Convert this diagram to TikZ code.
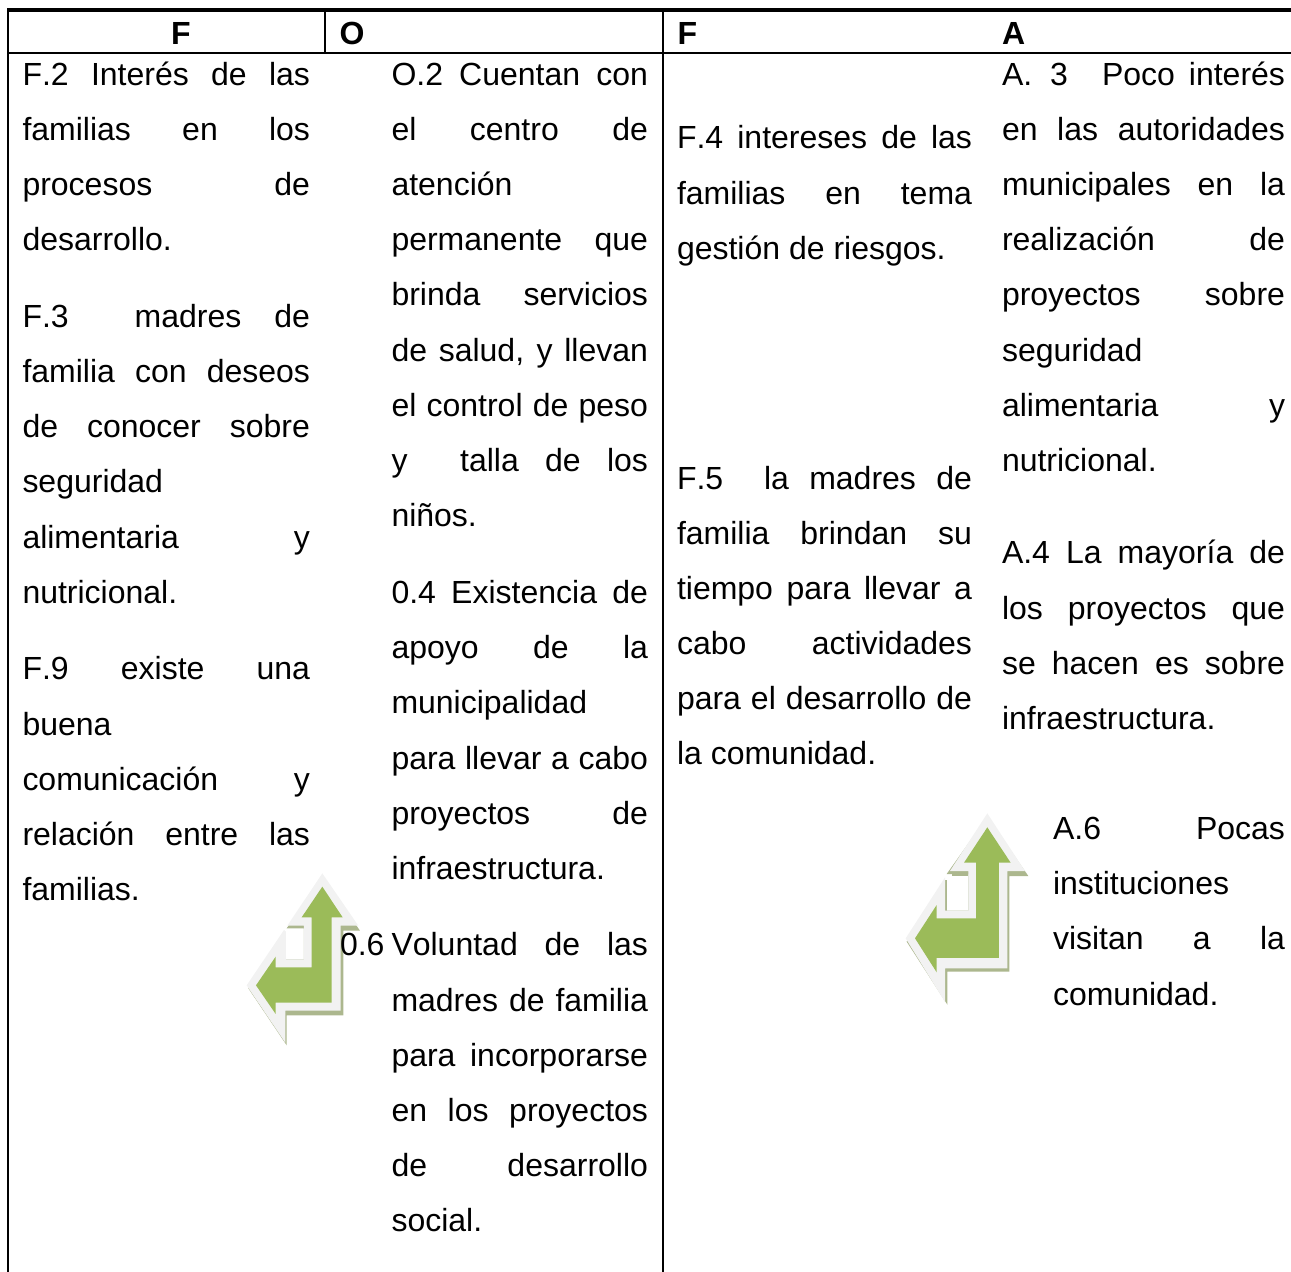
\documentclass[tikz,border=0pt]{standalone}
\usepackage{fontspec}
\setmainfont[Kerning=Off]{Liberation Sans}
\hbadness=10000
\hfuzz=20pt
\definecolor{arrowgreen}{HTML}{9BBB59}
\definecolor{arrowrim}{HTML}{F2F2F2}
\definecolor{arrowshade}{HTML}{ACB78E}
\newcount\tn
\newcommand\setcol[2]{\def\colx{#1}\def\colw{#2}}
% justified line: y-centre, text
\newcommand\J[2]{\global\advance\tn by 1
  \node[txt] (t\the\tn) at (\colx,#1+11) {\makebox[\colw pt][s]{#2}};}
% flush-left line
\newcommand\Lf[2]{\global\advance\tn by 1
  \node[txt] (t\the\tn) at (\colx,#1+11) {#2};}
\tikzset{
  txt/.style={anchor=base west,inner sep=0pt,outer sep=0pt,text=black,font=\fontsize{32}{32}\selectfont},
  head/.style={anchor=base,inner sep=0pt,outer sep=0pt,text=black,font=\fontsize{32}{32}\selectfont\bfseries},
  rule/.style={draw=black,line cap=butt},
  arrowbase/.style={line join=miter}
}
\begin{document}
\begin{tikzpicture}[x=1pt,y=-1pt]
\useasboundingbox (0,0) rectangle (1291,1272);
% table rules
\coordinate (tl) at (7,9.5); \coordinate (tr) at (1291,9.5);
\coordinate (hl) at (7,53); \coordinate (hr) at (1291,53);
\draw[rule,line width=4pt] (tl) -- (tr);
\draw[rule,line width=2pt] (hl) -- (hr);
\draw[rule,line width=2pt] (8,8) -- (8,1272);
\draw[rule,line width=2pt] (663,8) -- (663,1272);
\draw[rule,line width=1.2pt] (325,11) -- (325,53);
% headers
\node[head] (h1) at (181,44) {F};
\node[head,anchor=base west] (h2) at (339.5,44) {O};
\node[head,anchor=base west] (h3) at (677.5,44) {F};
\node[head,anchor=base west] (h4) at (1002,44) {A};
% arrow 1
\begin{scope}[shift={(230,860)},x=0.3333pt,y=-0.3333pt,arrowbase]
\fill[arrowshade] (277,50) -- (390,212) -- (340,212) -- (340,466) -- (170,466) -- (170,556) -- (55,385) -- (165,215) -- (165,298) -- (222,298) -- (222,205) -- (170,205) -- cycle;
\fill[arrowshade] (185,197) rectangle (222,204);
\fill[arrowrim] (277,40) -- (385,197) -- (332,197) -- (332,452) -- (166,452) -- (166,548) -- (50,376) -- (162,210) -- (168,215) -- (168,298) -- (222,298) -- (222,197) -- (172,197) -- cycle;
\fill[arrowgreen] (277,80) -- (338,172) -- (305,172) -- (305,428) -- (137,428) -- (137,462) -- (78,376) -- (137,290) -- (137,322) -- (245,322) -- (245,172) -- (215,172) -- cycle;
\end{scope}
% arrow 2
\begin{scope}[shift={(890,800)},x=0.3333pt,y=-0.3333pt,arrowbase]
\fill[arrowshade] (292,50) -- (415,228) -- (358,228) -- (358,515) -- (172,515) -- (172,614) -- (50,425) -- (165,240) -- (165,332) -- (235,332) -- (235,222) -- (170,222) -- cycle;
\fill[arrowshade] (185,213) rectangle (235,228);
\fill[arrowshade] (165,240) rectangle (172,332);
\fill[arrowrim] (292,40) -- (405,213) -- (352,213) -- (352,505) -- (165,505) -- (165,606) -- (47,415) -- (165,232) -- (165,332) -- (235,332) -- (235,213) -- (180,213) -- cycle;
\fill[arrowgreen] (292,82) -- (362,188) -- (327,188) -- (327,474) -- (140,474) -- (140,517) -- (75,415) -- (140,315) -- (140,355) -- (258,355) -- (258,188) -- (222,188) -- cycle;
\end{scope}
% column 1
\setcol{22.5}{287.5}
\J{74}{F.2 Interés de las}
\J{129}{familias en los}
\J{184}{procesos de}
\Lf{239}{desarrollo.}
\J{316}{F.3\ \ madres de}
\J{371}{familia con deseos}
\J{426}{de conocer sobre}
\Lf{481}{seguridad}
\J{537}{alimentaria y}
\Lf{592}{nutricional.}
\J{668}{F.9 existe una}
\Lf{724}{buena}
\J{779}{comunicación y}
\J{834}{relación entre las}
\Lf{889}{familias.}
% column 2
\setcol{391.5}{256.5}
\J{74}{O.2 Cuentan con}
\J{129}{el centro de}
\Lf{184}{atención}
\J{239}{permanente que}
\J{294}{brinda servicios}
\J{350}{de salud, y llevan}
\J{405}{el control de peso}
\J{460}{y\ \ talla de los}
\Lf{515}{niños.}
\J{592}{0.4 Existencia de}
\J{647}{apoyo de la}
\Lf{702}{municipalidad}
\J{758}{para llevar a cabo}
\J{813}{proyectos de}
\Lf{868}{infraestructura.}
\J{944}{Voluntad de las}
\J{1000}{madres de familia}
\J{1055}{para incorporarse}
\J{1110}{en los proyectos}
\J{1165}{de desarrollo}
\Lf{1220}{social.}
\node[txt] (o6) at (340,955) {0.6};
% column 3
\setcol{677}{295}
\J{137}{F.4 intereses de las}
\J{193}{familias en tema}
\Lf{248}{gestión de riesgos.}
\J{478}{F.5\ \ la madres de}
\J{533}{familia brindan su}
\J{588}{tiempo para llevar a}
\J{643}{cabo actividades}
\J{698}{para el desarrollo de}
\Lf{753}{la comunidad.}
% column 4
\setcol{1002}{283}
\J{74}{A.\hspace{18pt}3\hspace{34pt}Poco interés}
\J{129}{en las autoridades}
\J{184}{municipales en la}
\J{239}{realización de}
\J{294}{proyectos sobre}
\Lf{350}{seguridad}
\J{405}{alimentaria y}
\Lf{460}{nutricional.}
\J{552}{A.4 La mayoría de}
\J{608}{los proyectos que}
\J{663}{se hacen es sobre}
\Lf{718}{infraestructura.}
% A.6 block
\setcol{1053}{232}
\J{828}{A.6 Pocas}
\Lf{883}{instituciones}
\J{938}{visitan a la}
\Lf{994}{comunidad.}
\end{tikzpicture}
\end{document}
